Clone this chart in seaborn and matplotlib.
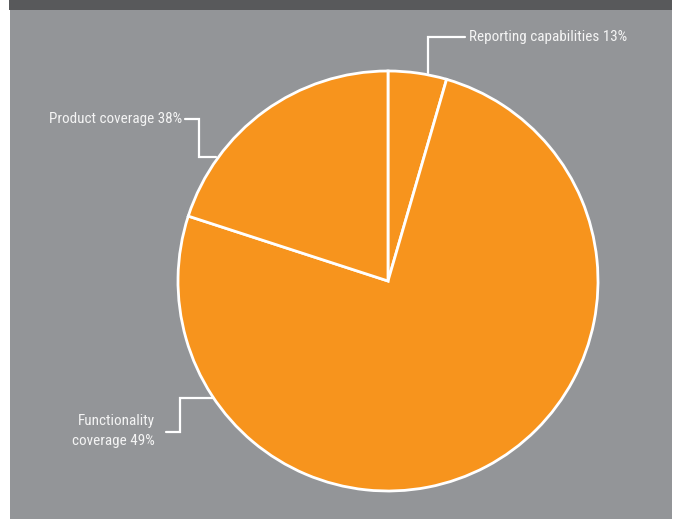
import matplotlib
matplotlib.use("Agg")
import matplotlib.pyplot as plt
import seaborn as sns
from matplotlib.patches import Rectangle
from matplotlib import font_manager

categories = ["Reporting capabilities", "Functionality coverage", "Product coverage"]
wedge_shares = [4.5, 75.5, 20.0]
label_texts = ["Reporting capabilities 13%", "Functionality\ncoverage 49%", "Product coverage 38%"]

sns.set_style("white")
names = {f.name for f in font_manager.fontManager.ttflist}
fam = [n for n in ["Liberation Sans Narrow", "Roboto Condensed", "Liberation Sans", "DejaVu Sans"] if n in names]
plt.rcParams["font.family"] = fam

W, H = 673, 519
fig = plt.figure(figsize=(W / 100, H / 100), dpi=100)
fig.patch.set_facecolor("white")
fig.patches.append(Rectangle((10 / W, 0), 662 / W, 509 / H, transform=fig.transFigure,
                             facecolor="#939598", edgecolor="none", zorder=-10))
fig.patches.append(Rectangle((9 / W, 509 / H), 663 / W, 10 / H, transform=fig.transFigure,
                             facecolor="#58595b", edgecolor="none", zorder=-10))

cx, cy, r = 388, 281, 210
ax = fig.add_axes([(cx - r) / W, (H - cy - r) / H, 2 * r / W, 2 * r / H])
ax.set_zorder(5)
ax.set_facecolor("none")
orange = "#f7941d"
ax.pie(wedge_shares, colors=[orange] * 3, startangle=90, counterclock=False,
       wedgeprops=dict(edgecolor="white", linewidth=2.0))
ax.set_xlim(-1, 1)
ax.set_ylim(-1, 1)
ax.set_aspect("equal")
ax.axis("off")


def d(px, py):
    return ((px - cx) / r, (cy - py) / r)


def leader(points):
    xs, ys = zip(*[d(px, py) for px, py in points])
    ax.plot(xs, ys, color="white", lw=1.6, clip_on=False, solid_joinstyle="miter")


txtcol = "#f4f4f4"
fs = 10.9
# Reporting
leader([(428, 73), (428, 37), (465, 37)])
x, y = d(469, 37)
ax.text(x, y, label_texts[0], color=txtcol, fontsize=fs, ha="left", va="center", clip_on=False)
# Product
leader([(185, 119), (199, 119), (199, 157), (216, 157)])
x, y = d(182, 119)
ax.text(x, y, label_texts[2], color=txtcol, fontsize=fs, ha="right", va="center", clip_on=False)
# Functionality
leader([(213, 398), (180, 398), (180, 432), (166, 432)])
x, y = d(155, 431)
ax.text(x, y, label_texts[1], color=txtcol, fontsize=fs, ha="right", va="center",
        multialignment="right", linespacing=1.5, clip_on=False)

fig.savefig("out.png", dpi=100, facecolor=fig.get_facecolor())
